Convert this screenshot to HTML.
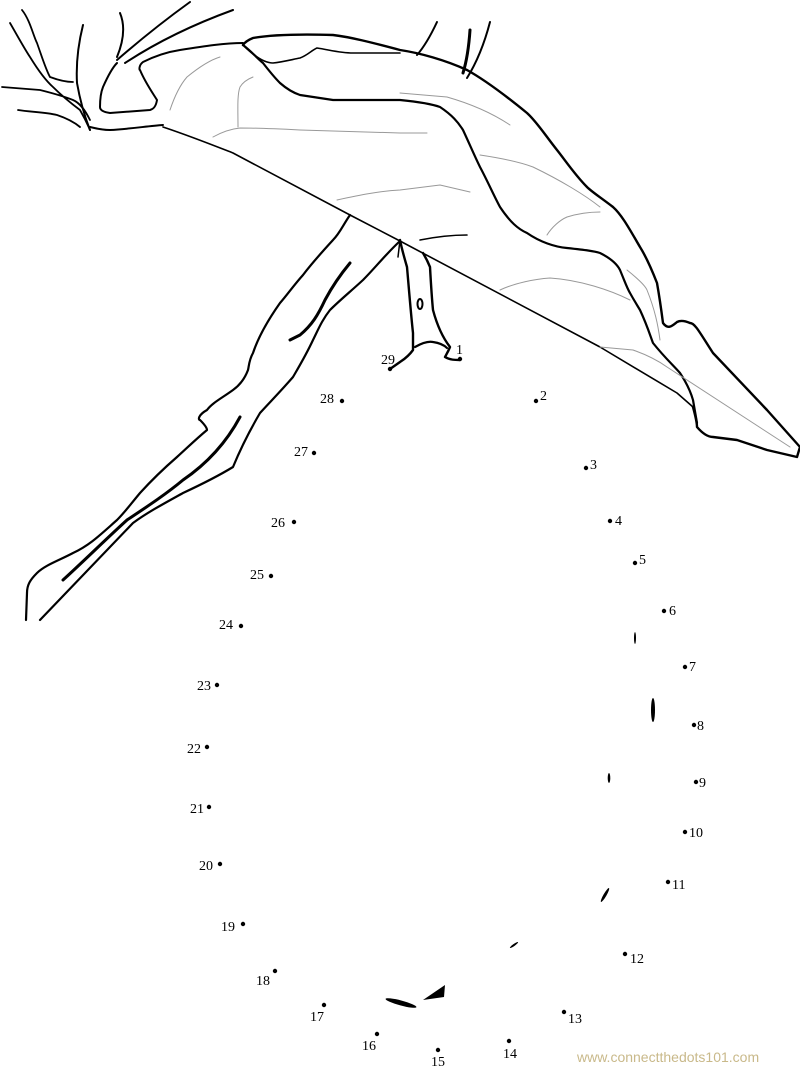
<!DOCTYPE html>
<html><head><style>
html,body{margin:0;padding:0;background:#fff;width:800px;height:1067px;overflow:hidden}
svg text{font-family:"Liberation Serif",serif;font-size:14px;fill:#000}
</style></head><body>
<svg width="800" height="1067" viewBox="0 0 800 1067" xmlns="http://www.w3.org/2000/svg">
<g fill="none" stroke="#000" stroke-linecap="round" stroke-linejoin="round">
<!-- main diagonal -->
<path d="M163,127 C190,136 210,144 233,153 L350,215 L400,241 L600,347 L677,393 L693,407" stroke-width="1.6"/>
<!-- leaf outline -->
<path d="M693,407 C696,418 697,425 697,427 C703,434 708,437 713,437 L737,440 L767,450 L797,457 L800,447 L767,410 L713,353 C700,333 695,323 690,323 C683,320 679,321 677,322 C672,326 668,330 663,323 C660,300 657,283 657,283 C650,265 645,255 640,247 C630,230 622,215 613,207 C600,197 592,192 587,187 C575,175 565,160 557,150 C545,135 537,122 527,113 C505,95 485,80 467,70 C445,60 420,53 400,50 C370,42 350,37 333,35 C300,34 270,35 253,38 C248,40 245,42 243,45" stroke-width="2.4"/>
<path d="M243,45 C252,52 257,58 263,63 C270,72 275,78 280,83 C288,90 294,93 300,95 L333,100 L400,100 C420,102 432,104 440,107 C452,115 458,122 463,130 C470,145 475,157 480,167 C488,182 494,196 500,207 C510,222 518,229 527,233 C540,242 555,247 567,248 C585,250 594,251 600,253 C610,258 617,264 620,270 C625,282 627,288 630,293 C635,302 637,305 640,310 C647,325 650,335 653,343 C665,358 673,365 680,373 C688,385 691,393 693,400 L697,423" stroke-width="2.2"/>
<path d="M243,45 C255,57 265,63 273,63 C282,62 290,60 300,58 C308,55 312,50 317,48 C330,50 340,53 353,53 L400,53" stroke-width="1.6"/>
<!-- fold -->
<path d="M143,62 C139,65 139,70 140,70 C145,82 152,92 157,100 C156,106 154,109 150,110 L110,113 C103,112 100,110 100,107 C100,98 101,92 103,87 C107,78 112,68 117,63 M143,62 C155,56 167,52 180,50 C205,46 225,43 243,43" stroke-width="2"/>
<path d="M125,63 C160,40 200,22 233,10 M117,60 C140,40 165,20 190,2 M83,25 C78,45 76,65 77,83 C80,100 84,115 90,130 M120,13 C125,25 124,40 117,57 M90,127 C98,129 104,130 110,130 C130,129 148,126 163,125" stroke-width="2"/>
<path d="M22,10 C30,20 33,35 37,43 C43,60 46,70 50,77 C58,80 65,82 73,82 M10,23 C17,35 24,48 30,57 C38,70 45,80 53,87 C62,96 72,104 80,110 C84,117 87,123 90,130 M2,87 C15,88 28,89 40,90 C52,93 63,96 73,100 C80,103 85,110 90,120 M18,110 C30,112 45,112 57,115 C66,118 74,122 80,127" stroke-width="1.8"/>
<!-- veins -->
<g stroke="#999" stroke-width="1">
<path d="M170,110 C175,95 180,85 187,77 C198,68 210,60 220,57 M238,127 C238,110 237,95 240,87 C243,82 248,79 253,77 M213,137 C222,132 230,129 240,128 C260,128 280,129 300,130 L400,133 L427,133 M337,200 C360,195 380,191 400,190 L440,185 L470,192 M400,93 L447,97 C475,105 495,115 510,125 M480,155 C500,158 520,162 533,167 C560,180 585,195 600,207 M547,235 C552,227 560,220 567,217 C580,213 590,212 600,212 M500,290 C515,283 535,279 550,278 C580,280 610,290 630,300 M627,270 C637,278 645,285 647,290 C655,310 658,325 660,340 M600,347 L633,350 C650,356 660,362 667,367 L790,447"/>
</g>
<path d="M420,240 C440,236 455,235 467,235" stroke-width="1.6"/>
<!-- stem upper -->
<path d="M437,22 C430,37 424,47 417,55 M490,22 C484,45 477,62 467,78" stroke-width="2"/>
<path d="M470,30 C469,45 467,60 463,73" stroke-width="3"/>
<!-- leg -->
<path d="M350,215 C343,225 340,233 333,240 C322,252 312,263 303,275 C294,285 287,295 280,303 C268,320 258,338 253,353 C249,360 249,366 248,370 C245,378 240,385 233,390 C222,398 212,403 207,410 C198,415 198,420 200,420 C205,425 207,428 207,430 C195,440 187,448 177,457 C162,470 150,482 140,493 C130,505 125,512 117,520 C100,535 90,545 73,553 C60,560 45,565 37,573 C30,580 27,585 27,593 L26,620" stroke-width="2.2"/>
<path d="M400,241 C385,255 375,268 363,280 C350,292 340,300 330,310 C322,320 318,330 313,340 C306,355 300,365 293,377 C280,392 270,402 260,413 C250,430 240,450 233,467 C215,478 198,486 183,493 C165,503 148,512 133,523 L40,620" stroke-width="2.2"/>
<path d="M350,263 C340,275 333,285 325,300 C318,315 312,325 300,335 L290,340" stroke-width="3"/>
<path d="M240,417 C225,445 205,465 183,480 C165,495 145,508 127,520 C105,540 85,560 63,580" stroke-width="3"/>
<!-- foot -->
<path d="M400,240 L398,257" stroke-width="1.5"/>
<path d="M400,240 C402,250 405,260 407,267 C409,290 411,315 413,333 L413,350 C408,357 403,360 400,362 L390,369" stroke-width="2.4"/>
<path d="M423,253 C426,258 428,262 430,267 C431,285 432,300 433,310 C437,325 443,338 450,347 C448,352 446,355 445,357 C450,360 455,360 460,360" stroke-width="2.4"/>
<path d="M415,347 C422,343 428,341 433,342 C440,343 444,345 447,348" stroke-width="2.2"/>
<ellipse cx="420" cy="304" rx="2.5" ry="5" stroke-width="2"/>
</g>
<!-- small marks -->
<g fill="#000">
<ellipse cx="653" cy="710" rx="2" ry="12"/>
<ellipse cx="401" cy="1003" rx="16" ry="2.5" transform="rotate(15 401 1003)"/>
<path d="M423,1000 L445,985 L444,997 Z"/>
<ellipse cx="605" cy="895" rx="1.5" ry="8" transform="rotate(30 605 895)"/>
<ellipse cx="635" cy="638" rx="1" ry="6"/>
<ellipse cx="609" cy="778" rx="1.3" ry="5"/>
<ellipse cx="514" cy="945" rx="1" ry="5" transform="rotate(55 514 945)"/>
</g>
<!-- dots -->
<g fill="#000">
<circle cx="460" cy="359" r="2.2"/><circle cx="390" cy="369" r="2.2"/>
<circle cx="536" cy="401" r="2.2"/><circle cx="586" cy="468" r="2.2"/>
<circle cx="610" cy="521" r="2.2"/><circle cx="635" cy="563" r="2.2"/>
<circle cx="664" cy="611" r="2.2"/><circle cx="685" cy="667" r="2.2"/>
<circle cx="694" cy="725" r="2.2"/><circle cx="696" cy="782" r="2.2"/>
<circle cx="685" cy="832" r="2.2"/><circle cx="668" cy="882" r="2.2"/>
<circle cx="625" cy="954" r="2.2"/><circle cx="564" cy="1012" r="2.2"/>
<circle cx="509" cy="1041" r="2.2"/><circle cx="438" cy="1050" r="2.2"/>
<circle cx="377" cy="1034" r="2.2"/><circle cx="324" cy="1005" r="2.2"/>
<circle cx="275" cy="971" r="2.2"/><circle cx="243" cy="924" r="2.2"/>
<circle cx="220" cy="864" r="2.2"/><circle cx="209" cy="807" r="2.2"/>
<circle cx="207" cy="747" r="2.2"/><circle cx="217" cy="685" r="2.2"/>
<circle cx="241" cy="626" r="2.2"/><circle cx="271" cy="576" r="2.2"/>
<circle cx="294" cy="522" r="2.2"/><circle cx="314" cy="453" r="2.2"/>
<circle cx="342" cy="401" r="2.2"/>
</g>
<g>
<text x="456" y="354">1</text><text x="381" y="364">29</text>
<text x="540" y="400">2</text><text x="590" y="469">3</text>
<text x="615" y="525">4</text><text x="639" y="564">5</text>
<text x="669" y="615">6</text><text x="689" y="671">7</text>
<text x="697" y="730">8</text><text x="699" y="787">9</text>
<text x="689" y="837">10</text><text x="672" y="889">11</text>
<text x="630" y="963">12</text><text x="568" y="1023">13</text>
<text x="503" y="1058">14</text><text x="431" y="1066">15</text>
<text x="362" y="1050">16</text><text x="310" y="1021">17</text>
<text x="256" y="985">18</text><text x="221" y="931">19</text>
<text x="199" y="870">20</text><text x="190" y="813">21</text>
<text x="187" y="753">22</text><text x="197" y="690">23</text>
<text x="219" y="629">24</text><text x="250" y="579">25</text>
<text x="271" y="527">26</text><text x="294" y="456">27</text>
<text x="320" y="403">28</text>
</g>
<text x="577" y="1062" style="font-family:'Liberation Sans',sans-serif;font-size:14px;fill:#c9b98a">www.connectthedots101.com</text>
</svg>
</body></html>
